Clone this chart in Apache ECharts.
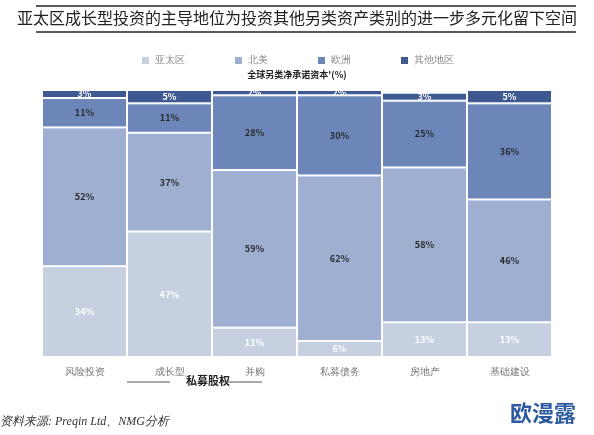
<!DOCTYPE html>
<html><head><meta charset="utf-8">
<script src="https://cdn.jsdelivr.net/npm/echarts@6/dist/echarts.min.js"></script>
<style>html,body{margin:0;padding:0;background:#fff}#c{width:594px;height:435px}</style>
</head><body><div id="c"></div>
<script>
const categories = ['风险投资','成长型','并购','私募债务','房地产','基础建设'];
const seriesNames = ['亚太区','北美','欧洲','其他地区'];
const apac = [34,47,11,6,13,13];
const northAmerica = [52,37,59,62,58,46];
const europe = [11,11,28,30,25,36];
const other = [3,5,2,2,3,5];
const colors = ['#c6d0e1','#9eafd2','#6c86ba','#3e5991'];
const labelColors = ['#ffffff','#2a2a2a','#2a2a2a','#ffffff'];
const allData = [apac, northAmerica, europe, other];
const font = '"Noto Sans CJK SC", sans-serif';
const chart = echarts.init(document.getElementById('c'));
chart.setOption({
  animation:false,
  legend:{top:50,left:'center',itemWidth:9,itemHeight:9,itemGap:48,icon:'rect',
    textStyle:{color:'#888',fontSize:10,fontFamily:'serif'},data:seriesNames},
  grid:{left:42,right:42,top:90,bottom:78},
  xAxis:{type:'category',data:categories,axisTick:{show:false},axisLine:{show:false},
    axisLabel:{color:'#777',fontSize:10,fontFamily:'serif',margin:10}},
  yAxis:{type:'value',min:0,max:100,show:false},
  series: allData.map((d,i)=>({name:seriesNames[i],type:'bar',stack:'s',data:d,
    barCategoryGap:0,itemStyle:{color:colors[i],borderColor:'#ffffff',borderWidth:1},
    label:{show:true,position:'inside',formatter:'{c}%',color:labelColors[i],fontSize:9,fontWeight:'bold',fontFamily:font}})),
  graphic:[
    {type:'line',shape:{x1:36,y1:6,x2:576,y2:6},style:{stroke:'#222',lineWidth:1.5}},
    {type:'text',left:'center',top:10,style:{text:'亚太区成长型投资的主导地位为投资其他另类资产类别的进一步多元化留下空间',fontSize:16,fill:'#222',fontFamily:font}},
    {type:'line',shape:{x1:36,y1:32,x2:576,y2:32},style:{stroke:'#222',lineWidth:1.5}},
    {type:'text',left:'center',top:70,style:{text:"全球另类净承诺资本'(%)",fontSize:9,fill:'#222',fontWeight:'bold',fontFamily:font}},
    {type:'line',shape:{x1:127,y1:382,x2:170,y2:382},style:{stroke:'#555',lineWidth:1}},
    {type:'text',x:186,y:375,style:{text:'私募股权',fontSize:11,fill:'#222',fontWeight:'bold',fontFamily:font}},
    {type:'line',shape:{x1:221,y1:382,x2:262,y2:382},style:{stroke:'#555',lineWidth:1}},
    {type:'text',x:0,y:416,style:{text:'资料来源: Preqin Ltd、NMG分析',fontSize:12,fill:'#333',fontStyle:'italic',fontFamily:'serif'}},
    {type:'text',x:510,y:402,style:{text:'欧漫露',fontSize:22,fill:'#2c5aa0',fontWeight:'bold',fontFamily:font}}
  ]
});
</script></body></html>
